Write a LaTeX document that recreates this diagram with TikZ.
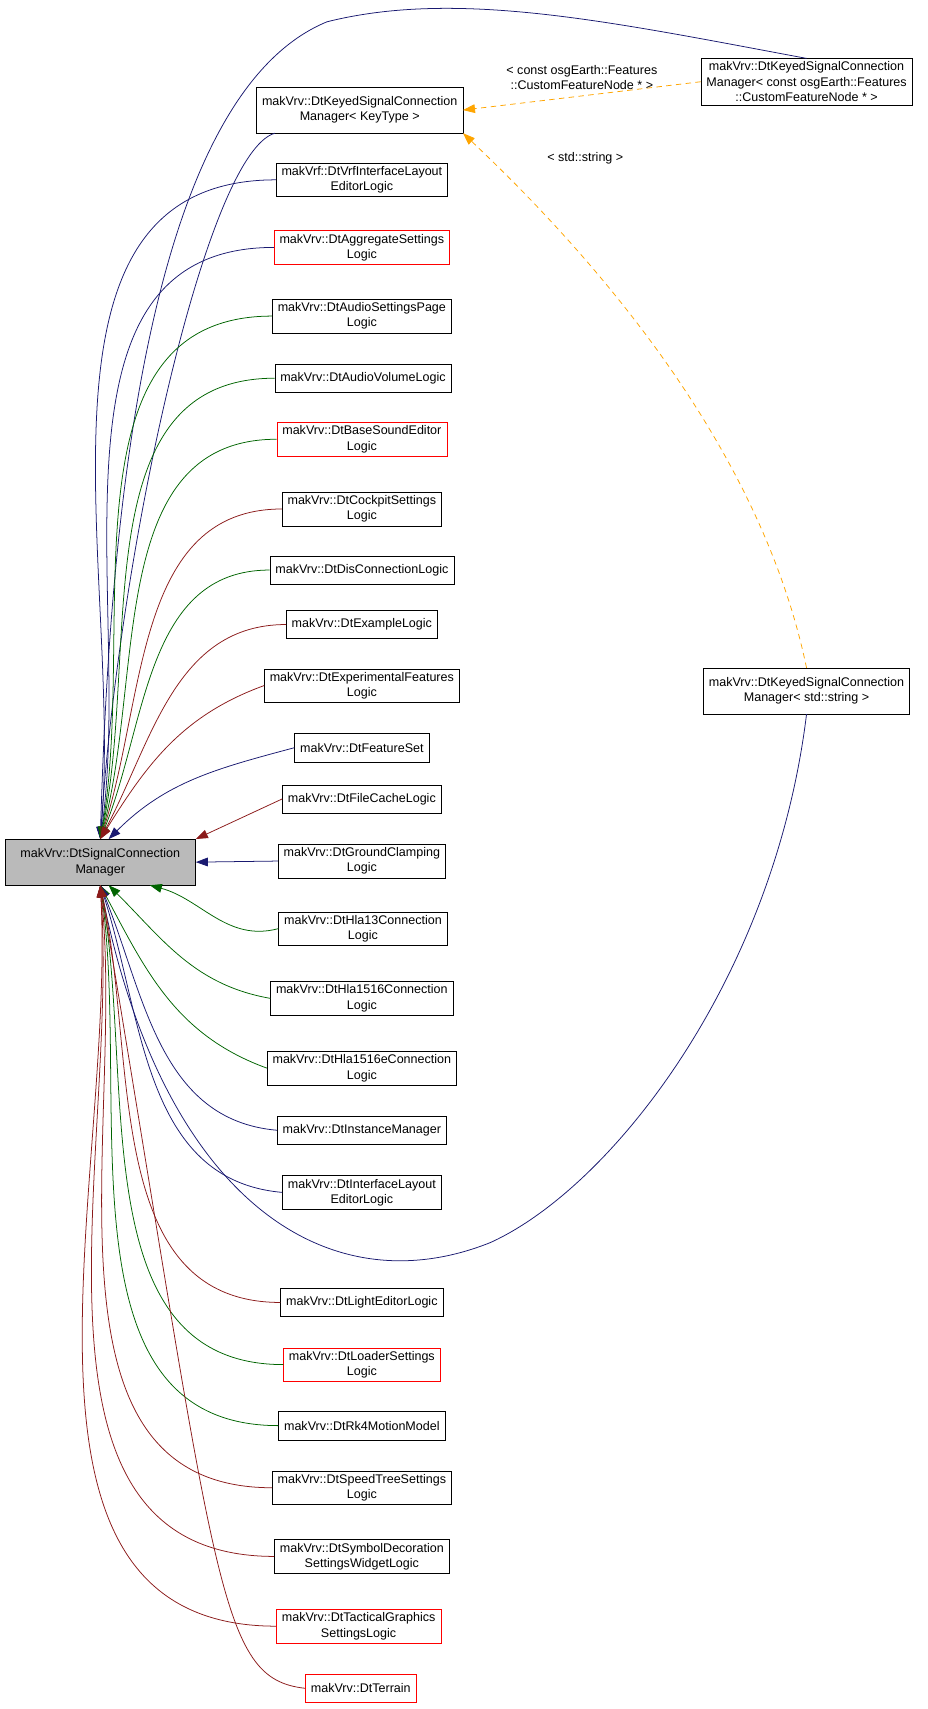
\documentclass[tikz,border=0pt]{standalone}
\usepackage{fontspec}
\setmainfont{Liberation Sans}
\usetikzlibrary{arrows.meta}
\definecolor{navyedge}{RGB}{25,25,112}
\definecolor{greenedge}{RGB}{0,100,0}
\definecolor{rededge}{RGB}{139,26,26}
\definecolor{orangeedge}{RGB}{255,165,0}
\begin{document}
\begin{tikzpicture}[x=1pt,y=-1pt,
  box/.style={draw, fill=white, align=center, inner xsep=5pt, inner ysep=3pt, minimum height=26pt, font=\fontsize{11.5}{14}\selectfont},
  redbox/.style={box, draw=red},
  tip/.style={-{Triangle[length=11pt,width=8pt]}},
  nav/.style={tip, navyedge, line width=0.7pt},
  grn/.style={tip, greenedge, line width=0.7pt},
  rdd/.style={tip, rededge, line width=0.7pt},
  tmpl/.style={tip, orangeedge, dashed, dash pattern=on 5pt off 4pt, line width=0.7pt},
  lbl/.style={font=\fontsize{11.5}{14}\selectfont, align=center, text=black}]
\useasboundingbox (0,0) rectangle (851,1568);

% base class
\node[box, fill=black!27, minimum width=175pt, minimum height=42pt] (main) at (92,791) {makVrv::DtSignalConnection\\Manager};

% templates
\node[box, minimum height=42pt] (keyed) at (330,101) {makVrv::DtKeyedSignalConnection\\Manager< KeyType >};
\node[box] (keyedcfn) at (740,75) {makVrv::DtKeyedSignalConnection\\Manager< const osgEarth::Features\\::CustomFeatureNode * >};
\node[box, minimum height=42pt] (keyedstr) at (740,634) {makVrv::DtKeyedSignalConnection\\Manager< std::string >};

% derived classes
\node[box] (vrflayout) at (332,165) {makVrf::DtVrfInterfaceLayout\\EditorLogic};
\node[redbox] (aggregate) at (332,227) {makVrv::DtAggregateSettings\\Logic};
\node[box] (audiopage) at (332,290) {makVrv::DtAudioSettingsPage\\Logic};
\node[box] (audiovol) at (333,347) {makVrv::DtAudioVolumeLogic};
\node[redbox] (basesound) at (332,403) {makVrv::DtBaseSoundEditor\\Logic};
\node[box] (cockpit) at (332,467) {makVrv::DtCockpitSettings\\Logic};
\node[box] (dis) at (332,523) {makVrv::DtDisConnectionLogic};
\node[box] (example) at (332,573) {makVrv::DtExampleLogic};
\node[box] (experimental) at (332,629) {makVrv::DtExperimentalFeatures\\Logic};
\node[box] (featureset) at (332,686) {makVrv::DtFeatureSet};
\node[box] (filecache) at (332,733) {makVrv::DtFileCacheLogic};
\node[box] (ground) at (332,790) {makVrv::DtGroundClamping\\Logic};
\node[box] (hla13) at (333,852) {makVrv::DtHla13Connection\\Logic};
\node[box] (hla1516) at (332,916) {makVrv::DtHla1516Connection\\Logic};
\node[box] (hla1516e) at (332,980) {makVrv::DtHla1516eConnection\\Logic};
\node[box] (instance) at (332,1037) {makVrv::DtInstanceManager};
\node[box] (ifacelayout) at (332,1094) {makVrv::DtInterfaceLayout\\EditorLogic};
\node[box] (light) at (332,1195) {makVrv::DtLightEditorLogic};
\node[redbox] (loader) at (332,1252) {makVrv::DtLoaderSettings\\Logic};
\node[box] (rk4) at (332,1308) {makVrv::DtRk4MotionModel};
\node[box] (speedtree) at (332,1365) {makVrv::DtSpeedTreeSettings\\Logic};
\node[box] (symbol) at (332,1428) {makVrv::DtSymbolDecoration\\SettingsWidgetLogic};
\node[redbox] (tactical) at (329,1492) {makVrv::DtTacticalGraphics\\SettingsLogic};
\node[redbox] (terrain) at (331,1549) {makVrv::DtTerrain};

% template instantiations
\draw[tmpl] (keyedcfn.west) -- node[lbl, above=2pt] {< const osgEarth::Features\\::CustomFeatureNode * >} (keyed.east);
\draw[tmpl] (keyedstr.north) .. controls (700,420) and (560,250) .. (keyed.south east);
\node[lbl] (strlbl) at (537,145) {< std::string >};

% inheritance
\draw[nav] (keyedcfn.north) .. controls (560,20) and (420,-10) .. (300,20) .. controls (130,90) and (100,500) .. (main.north);
\draw[nav] ([xshift=17pt]keyed.south west) .. controls (190,140) and (110,500) .. (main.north);
\draw[nav] (vrflayout.west) to[out=180,in=85] (main.north);
\draw[nav] (aggregate.west) to[out=180,in=82] (main.north);
\draw[grn] (audiopage.west) to[out=180,in=80] (main.north);
\draw[grn] (audiovol.west) to[out=180,in=78] (main.north);
\draw[grn] (basesound.west) to[out=180,in=75] (main.north);
\draw[rdd] (cockpit.west) to[out=180,in=72] (main.north);
\draw[grn] (dis.west) to[out=180,in=68] (main.north);
\draw[rdd] (example.west) to[out=180,in=62] (main.north);
\draw[rdd] (experimental.west) to[out=200,in=58] (main.north);
\draw[nav] (featureset.west) to[out=195,in=45] (main.70);
\draw[rdd] (filecache.west) -- (main.north east);
\draw[nav] (ground.west) -- (main.east);
\draw[grn] (hla13.west) to[out=195,in=-15] (main.-25);
\draw[grn] (hla1516.west) to[out=170,in=-45] (main.-70);
\draw[grn] (hla1516e.west) to[out=160,in=-62] (main.south);
\draw[nav] (instance.west) to[out=175,in=-68] (main.south);
\draw[nav] (ifacelayout.west) to[out=175,in=-72] (main.south);
\draw[nav] (keyedstr.south) .. controls (710,900) and (560,1090) .. (450,1140) .. controls (300,1200) and (150,1100) .. (main.south);
\draw[rdd] (light.west) to[out=180,in=-78] (main.south);
\draw[grn] (loader.west) to[out=180,in=-80] (main.south);
\draw[grn] (rk4.west) to[out=180,in=-82] (main.south);
\draw[rdd] (speedtree.west) to[out=180,in=-84] (main.south);
\draw[rdd] (symbol.west) to[out=180,in=-86] (main.south);
\draw[rdd] (tactical.west) to[out=180,in=-87] (main.south);
\draw[rdd] (terrain.west) .. controls (200,1540) and (200,1460) .. (main.south);
\end{tikzpicture}
\end{document}
